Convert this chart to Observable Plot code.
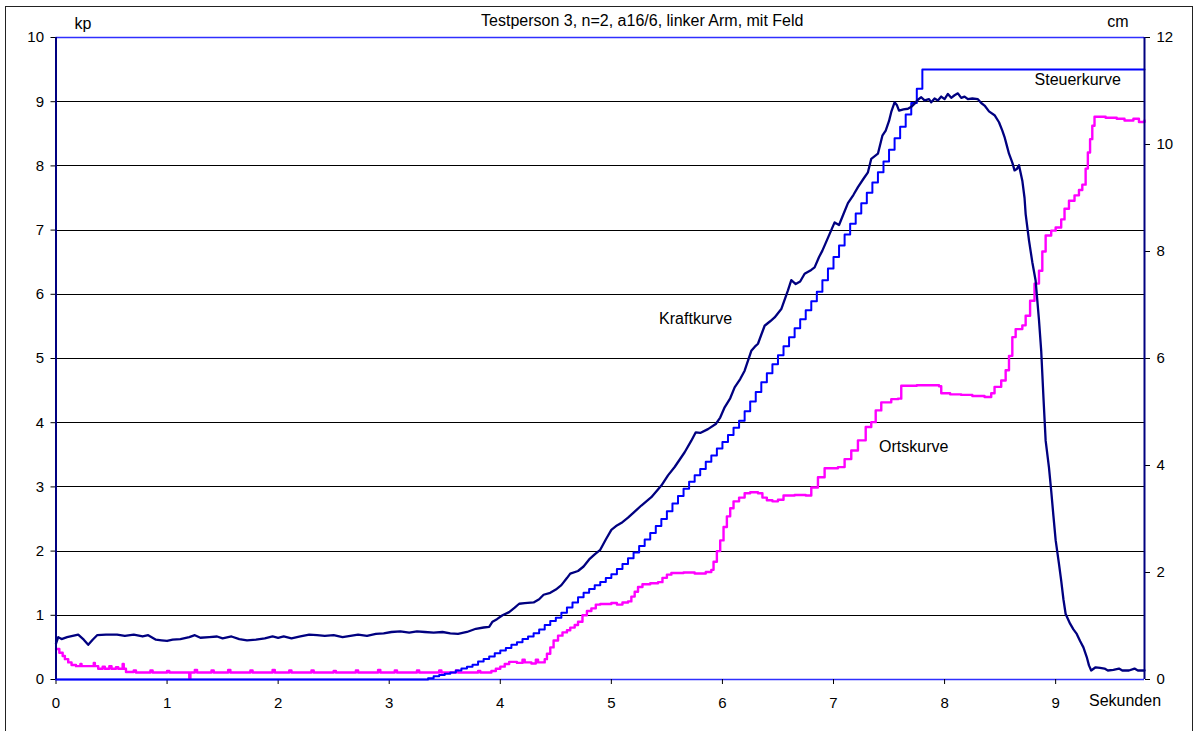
<!DOCTYPE html>
<html>
<head>
<meta charset="utf-8">
<script src="https://cdn.jsdelivr.net/npm/d3@7"></script>
<script src="https://cdn.jsdelivr.net/npm/@observablehq/plot@0.6"></script>
<style>
  html, body { margin: 0; padding: 0; background: #fff; }
  #wrap { position: relative; width: 1194px; height: 731px; overflow: hidden; }
  #border { position: absolute; left: 5px; top: 6px; width: 1186px; height: 740px;
            border: 1px solid #222; pointer-events: none; }
</style>
</head>
<body>
<div id="wrap"><div id="border"></div></div>
<script>
// Kraftkurve: force in kp over time in seconds
const kraft = [
  [0.00,0.56],[0.02,0.66],[0.05,0.63],[0.10,0.66],[0.15,0.68],[0.20,0.70],[0.25,0.62],[0.29,0.54],
  [0.33,0.62],[0.37,0.69],[0.45,0.70],[0.55,0.70],[0.62,0.68],[0.70,0.70],[0.78,0.67],[0.83,0.69],
  [0.90,0.62],[0.95,0.61],[1.00,0.60],[1.05,0.62],[1.12,0.63],[1.20,0.66],[1.25,0.69],[1.30,0.65],
  [1.38,0.66],[1.45,0.67],[1.50,0.64],[1.58,0.67],[1.65,0.63],[1.72,0.61],[1.80,0.62],[1.88,0.64],
  [1.95,0.67],[2.00,0.65],[2.05,0.67],[2.12,0.64],[2.20,0.67],[2.28,0.70],[2.35,0.69],[2.42,0.68],
  [2.50,0.69],[2.58,0.66],[2.65,0.68],[2.72,0.70],[2.80,0.68],[2.88,0.71],[2.95,0.72],[3.02,0.74],
  [3.10,0.75],[3.18,0.73],[3.25,0.75],[3.32,0.74],[3.40,0.73],[3.48,0.74],[3.55,0.72],[3.62,0.71],
  [3.70,0.74],[3.78,0.79],[3.85,0.81],[3.90,0.82],[3.93,0.90],[3.97,0.94],[4.02,1.00],[4.08,1.05],
  [4.13,1.12],[4.17,1.18],[4.22,1.19],[4.30,1.20],[4.35,1.25],[4.39,1.32],[4.45,1.35],[4.50,1.40],
  [4.55,1.47],[4.60,1.58],[4.63,1.65],[4.70,1.69],[4.75,1.76],[4.80,1.87],[4.85,1.95],[4.90,2.02],
  [4.95,2.18],[5.00,2.33],[5.05,2.40],[5.10,2.45],[5.15,2.52],[5.20,2.60],[5.27,2.71],[5.36,2.84],
  [5.45,3.02],[5.51,3.18],[5.57,3.31],[5.66,3.54],[5.72,3.72],[5.76,3.85],[5.80,3.84],[5.87,3.90],
  [5.94,3.98],[5.98,4.08],[6.02,4.24],[6.07,4.38],[6.11,4.55],[6.16,4.68],[6.20,4.81],[6.26,5.12],
  [6.29,5.18],[6.32,5.23],[6.38,5.51],[6.43,5.58],[6.47,5.64],[6.53,5.77],[6.59,6.06],[6.62,6.22],
  [6.66,6.16],[6.70,6.20],[6.74,6.32],[6.80,6.38],[6.83,6.42],[6.87,6.58],[6.90,6.68],[6.94,6.84],
  [6.98,7.00],[7.01,7.12],[7.05,7.08],[7.09,7.25],[7.13,7.42],[7.18,7.55],[7.22,7.67],[7.27,7.80],
  [7.31,7.90],[7.34,8.11],[7.40,8.19],[7.44,8.47],[7.47,8.55],[7.50,8.70],[7.52,8.84],[7.55,8.99],
  [7.57,8.95],[7.59,8.86],[7.63,8.88],[7.67,8.89],[7.70,8.92],[7.73,8.97],[7.76,9.03],[7.79,9.07],
  [7.82,9.02],[7.86,9.04],[7.88,8.99],[7.91,9.05],[7.94,9.02],[7.97,9.08],[8.00,9.04],[8.03,9.12],
  [8.06,9.06],[8.09,9.10],[8.12,9.13],[8.15,9.06],[8.18,9.08],[8.21,9.04],[8.25,9.05],[8.30,9.04],
  [8.33,8.98],[8.36,8.94],[8.40,8.85],[8.45,8.79],[8.49,8.68],[8.52,8.55],[8.54,8.45],[8.56,8.32],
  [8.58,8.19],[8.61,8.05],[8.63,7.93],[8.65,7.95],[8.67,8.01],[8.70,7.77],[8.72,7.50],[8.73,7.25],
  [8.76,6.84],[8.79,6.50],[8.82,6.21],[8.85,5.60],[8.87,5.12],[8.89,4.40],[8.91,3.72],[8.94,3.30],
  [8.96,2.94],[8.98,2.55],[9.00,2.17],[9.03,1.80],[9.05,1.54],[9.07,1.25],[9.09,1.02],[9.13,0.87],
  [9.16,0.78],[9.19,0.71],[9.22,0.60],[9.25,0.50],[9.28,0.35],[9.30,0.22],[9.32,0.14],[9.36,0.19],
  [9.40,0.18],[9.44,0.17],[9.47,0.14],[9.52,0.15],[9.57,0.17],[9.60,0.14],[9.66,0.14],[9.71,0.17],
  [9.74,0.14],[9.80,0.14]
];

// Steuerkurve: stepped target force in kp
const steuer = [
  [0.00,0.00],[3.35,0.02],[3.40,0.05],[3.45,0.07],[3.50,0.09],[3.55,0.11],[3.60,0.14],[3.65,0.17],
  [3.70,0.20],[3.75,0.23],[3.80,0.28],[3.85,0.32],[3.90,0.36],[3.95,0.41],[4.00,0.45],[4.05,0.49],
  [4.10,0.54],[4.15,0.58],[4.20,0.63],[4.25,0.67],[4.30,0.72],[4.35,0.78],[4.40,0.85],[4.45,0.91],
  [4.50,0.96],[4.55,1.04],[4.60,1.12],[4.65,1.20],[4.70,1.28],[4.75,1.35],[4.80,1.41],[4.85,1.47],
  [4.90,1.52],[4.95,1.58],[5.00,1.64],[5.05,1.72],[5.10,1.80],[5.15,1.89],[5.20,1.98],[5.25,2.08],
  [5.30,2.18],[5.35,2.28],[5.40,2.39],[5.45,2.50],[5.50,2.62],[5.55,2.74],[5.60,2.86],[5.65,2.97],
  [5.70,3.08],[5.75,3.18],[5.80,3.28],[5.85,3.39],[5.90,3.49],[5.95,3.60],[6.00,3.70],[6.05,3.81],
  [6.10,3.92],[6.15,4.03],[6.20,4.18],[6.25,4.33],[6.30,4.48],[6.35,4.63],[6.40,4.77],[6.45,4.91],
  [6.50,5.05],[6.55,5.19],[6.60,5.33],[6.65,5.47],[6.70,5.61],[6.75,5.75],[6.80,5.89],[6.85,6.04],
  [6.90,6.22],[6.95,6.40],[7.00,6.58],[7.05,6.76],[7.10,6.93],[7.15,7.10],[7.20,7.26],[7.25,7.42],
  [7.30,7.58],[7.35,7.74],[7.40,7.90],[7.45,8.07],[7.50,8.25],[7.55,8.43],[7.60,8.61],[7.65,8.80],
  [7.70,8.98],[7.75,9.20],[7.80,9.50],[9.80,9.50]
];

// Ortskurve: position in cm (right axis)
const orts = [
  [0.00,0.57],[0.03,0.50],[0.06,0.44],[0.08,0.38],[0.11,0.32],[0.14,0.27],[0.18,0.25],[0.22,0.29],
  [0.23,0.25],[0.30,0.25],[0.34,0.31],[0.35,0.25],[0.38,0.20],[0.42,0.24],[0.44,0.20],[0.48,0.25],
  [0.50,0.20],[0.54,0.23],[0.56,0.20],[0.60,0.29],[0.61,0.20],[0.63,0.14],[0.70,0.17],[0.72,0.13],
  [0.85,0.17],[0.87,0.13],[1.00,0.16],[1.02,0.13],[1.20,0.02],[1.21,0.13],[1.25,0.18],[1.27,0.13],
  [1.40,0.17],[1.42,0.13],[1.55,0.18],[1.57,0.13],[1.75,0.17],[1.77,0.13],[1.95,0.18],[1.97,0.13],
  [2.10,0.17],[2.12,0.13],[2.30,0.17],[2.32,0.13],[2.50,0.16],[2.52,0.13],[2.70,0.17],[2.72,0.13],
  [2.90,0.18],[2.92,0.13],[3.05,0.17],[3.07,0.13],[3.25,0.17],[3.27,0.13],[3.45,0.17],[3.47,0.13],
  [3.60,0.17],[3.62,0.13],[3.80,0.16],[3.82,0.13],[3.92,0.16],[3.96,0.20],[4.00,0.24],[4.04,0.29],
  [4.08,0.33],[4.15,0.31],[4.20,0.37],[4.22,0.32],[4.28,0.30],[4.32,0.37],[4.34,0.32],[4.40,0.38],
  [4.42,0.48],[4.45,0.60],[4.48,0.73],[4.52,0.82],[4.56,0.88],[4.60,0.92],[4.63,0.97],[4.67,1.02],
  [4.70,1.08],[4.74,1.20],[4.78,1.28],[4.82,1.33],[4.86,1.40],[4.90,1.41],[5.00,1.43],[5.05,1.40],
  [5.10,1.44],[5.15,1.46],[5.18,1.55],[5.21,1.64],[5.24,1.73],[5.28,1.78],[5.35,1.80],[5.42,1.82],
  [5.46,1.90],[5.50,1.96],[5.54,1.99],[5.65,2.00],[5.75,1.98],[5.85,2.01],[5.90,2.05],[5.92,2.20],
  [5.95,2.40],[5.98,2.60],[6.01,2.85],[6.04,3.05],[6.07,3.20],[6.10,3.33],[6.15,3.40],[6.20,3.48],
  [6.25,3.50],[6.32,3.48],[6.36,3.40],[6.40,3.35],[6.45,3.33],[6.50,3.36],[6.55,3.44],[6.65,3.45],
  [6.75,3.44],[6.80,3.59],[6.86,3.78],[6.92,3.95],[7.04,3.97],[7.10,4.12],[7.16,4.28],[7.22,4.47],
  [7.29,4.72],[7.34,4.81],[7.38,5.03],[7.43,5.18],[7.52,5.24],[7.58,5.25],[7.61,5.49],[7.75,5.50],
  [7.95,5.48],[7.97,5.35],[8.05,5.33],[8.15,5.32],[8.25,5.30],[8.36,5.28],[8.42,5.35],[8.45,5.47],
  [8.51,5.59],[8.55,5.78],[8.58,6.05],[8.61,6.40],[8.64,6.55],[8.70,6.62],[8.73,6.80],[8.77,7.08],
  [8.81,7.40],[8.85,7.64],[8.88,8.00],[8.91,8.30],[8.96,8.39],[9.00,8.45],[9.05,8.60],[9.08,8.80],
  [9.12,8.95],[9.17,9.05],[9.21,9.15],[9.24,9.25],[9.27,9.55],[9.29,9.85],[9.31,10.10],[9.33,10.35],
  [9.35,10.52],[9.45,10.50],[9.55,10.48],[9.62,10.45],[9.70,10.48],[9.75,10.42],[9.80,10.45]
];

// axis ticks
const secondTicks = [0, 1, 2, 3, 4, 5, 6, 7, 8, 9];
const kpTicks = [0, 1, 2, 3, 4, 5, 6, 7, 8, 9, 10];
const cmTicks = [0, 2, 4, 6, 8, 10, 12];
const gridKp = [1, 2, 3, 4, 5, 6, 7, 8, 9];

const title = "Testperson 3, n=2, a16/6, linker Arm, mit Feld";

const KP_MAX = 10, CM_MAX = 12;
const cmToKp = c => c * KP_MAX / CM_MAX;

const NAVY = "#000080", BLUE = "#0000ff", MAGENTA = "#ff00ff", FRAME_BLUE = "#2f2fff";

const chart = Plot.plot({
  width: 1194,
  height: 731,
  marginLeft: 55.5,
  marginRight: 50,
  marginTop: 37,
  marginBottom: 52,
  x: {domain: [0, 9.8]},
  y: {domain: [0, KP_MAX]},
  style: {fontFamily: "'Liberation Sans', Arial, sans-serif", fontSize: "15px", background: "white", color: "black"},
  marks: [
    Plot.ruleY(gridKp, {stroke: "black", strokeWidth: 1, shapeRendering: "crispEdges"}),
    Plot.ruleY([0, KP_MAX], {stroke: FRAME_BLUE, strokeWidth: 1.5}),
    Plot.axisX(secondTicks, {tickSize: 5, tickPadding: 13, label: null, fontSize: 15, tickFormat: d => String(d)}),
    Plot.axisY(kpTicks, {anchor: "left", tickSize: 5, tickPadding: 7, label: null, fontSize: 15, tickFormat: d => String(d)}),
    Plot.axisY(cmTicks.map(cmToKp), {anchor: "right", tickSize: 5, tickPadding: 7, label: null, fontSize: 15,
      tickFormat: d => String(Math.round(d * CM_MAX / KP_MAX))}),
    Plot.line(orts, {x: d => d[0], y: d => cmToKp(d[1]), curve: "step-after", stroke: MAGENTA, strokeWidth: 2.4}),
    Plot.line(steuer, {x: d => d[0], y: d => d[1], curve: "step-after", stroke: BLUE, strokeWidth: 2}),
    Plot.line(kraft, {x: d => d[0], y: d => d[1], stroke: NAVY, strokeWidth: 2.3}),
    Plot.ruleX([0, 9.8], {stroke: NAVY, strokeWidth: 2}),
    // curve labels
    Plot.text(["Kraftkurve"], {x: 5.43, y: 5.61, textAnchor: "start", lineAnchor: "middle", fontSize: 16}),
    Plot.text(["Ortskurve"], {x: 7.41, y: 3.62, textAnchor: "start", lineAnchor: "middle", fontSize: 16}),
    Plot.text(["Steuerkurve"], {x: 8.81, y: 9.34, textAnchor: "start", lineAnchor: "middle", fontSize: 16}),
    // title and unit labels
    Plot.text([title], {frameAnchor: "top", lineAnchor: "middle", dx: 42, dy: -17, fontSize: 16}),
    Plot.text(["kp"], {frameAnchor: "top-left", textAnchor: "start", lineAnchor: "middle", dx: 18.5, dy: -14, fontSize: 16}),
    Plot.text(["cm"], {frameAnchor: "top-right", textAnchor: "end", lineAnchor: "middle", dx: -16, dy: -16, fontSize: 16}),
    Plot.text(["Sekunden"], {frameAnchor: "bottom-right", textAnchor: "middle", lineAnchor: "middle", dx: -19.5, dy: 21, fontSize: 16})
  ]
});

document.getElementById("wrap").prepend(chart);
</script>
</body>
</html>
